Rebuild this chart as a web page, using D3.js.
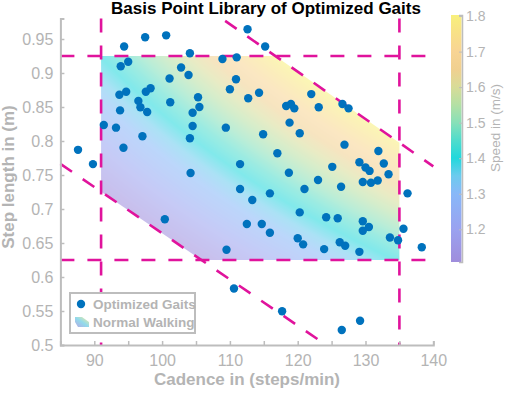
<!DOCTYPE html>
<html><head><meta charset="utf-8">
<script src="https://cdn.jsdelivr.net/npm/d3@7"></script>
<style>
body{margin:0;background:#fff}
svg{display:block}
text{font-family:"Liberation Sans",Arial,Helvetica,sans-serif}
</style>
</head><body>
<svg id="chart" width="512" height="394"></svg>
<script>
// ---------------- data ----------------
const cadence = [94.4,97.5,100.6,112.6,115.2,104.1,108.9,111.0,95.0,93.9,102.8,103.9,101.1,110.9,110.0,114.3,112.7,
  98.3,97.6,94.7,93.7,96.5,96.8,97.8,101.2,105.3,105.5,104.5,93.8,104.5,109.4,91.4,93.2,97.1,104.1,87.6,94.3,89.8,
  111.5,104.2,111.5,113.3,112.5,114.7,100.4,109.5,110.6,118.3,119.0,119.5,122.0,123.1,126.6,127.5,118.8,114.9,120.3,
  126.9,117.0,131.9,132.7,129.1,130.0,130.6,125.1,118.7,133.4,123.0,129.6,130.8,131.8,115.9,121.0,126.4,136.2,120.3,
  124.2,125.9,115.9,129.6,130.5,129.6,135.6,120.0,120.8,123.9,126.2,127.0,129.1,133.6,134.8,138.3,117.7,126.5,129.2];
const stepLength = [0.939,0.9525,0.9554,0.9643,0.939,0.929,0.9206,0.923,0.9166,0.910,0.908,0.897,0.892,0.8907,0.876,0.871,0.8628,
  0.8775,0.8725,0.8725,0.868,0.859,0.8496,0.8426,0.857,0.8643,0.850,0.8416,0.845,0.822,0.8196,0.8235,0.8196,0.807,0.804,0.787,0.790,0.766,
  0.766,0.753,0.7294,0.7132,0.678,0.678,0.685,0.640,0.583,0.8515,0.8544,0.848,0.869,0.8496,0.8544,0.848,0.827,0.810,0.8113,
  0.7946,0.782,0.7853,0.767,0.7687,0.761,0.756,0.762,0.7534,0.751,0.7426,0.7397,0.7387,0.742,0.723,0.7294,0.7328,0.723,0.695,
  0.6878,0.6863,0.665,0.682,0.6735,0.668,0.671,0.657,0.648,0.641,0.651,0.646,0.637,0.658,0.654,0.6437,0.5496,0.522,0.5357];

const xTickValues = [90,95,100,105,110,115,120,125,130,135,140];
const xTickLabels = ["90","","100","","110","","120","","130","","140"];
const yTickValues = [0.5,0.55,0.6,0.65,0.7,0.75,0.8,0.85,0.9,0.95];
const yTickLabels = ["0.5","0.55","0.6","0.65","0.7","0.75","0.8","0.85","0.9","0.95"];
const speedTicks = [1.2,1.3,1.4,1.5,1.6,1.7,1.8];
const speedTickLabels = ["1.2","1.3","1.4","1.5","1.6","1.7","1.8"];

const speedStops  = [1.107,1.2,1.3,1.35,1.4,1.45,1.5,1.55,1.6,1.65,1.7,1.75,1.803];
const speedColors = ["#9f8ddc","#9aa2f0","#88b8f8","#6ccbee","#22d8dc","#50dccc","#88e0b8","#b4e0a4","#d8dc98","#f0d090","#f8d494","#f8e088","#f8f07c"];

// boundary lines (cadence, step length)
const boundCadence = [91, 135];
const boundStep = [0.625, 0.925];
const upperLineC = [109.3, 140];
const upperLineS = [0.9766, 0.7626];
const lowerLineC = [85, 124.2];
const lowerLineS = [0.7663, 0.5];
const regionC = [91, 116.7, 135, 135, 105.8, 91];
const regionS = [0.925, 0.925, 0.7975, 0.625, 0.625, 0.7255];

// ---------------- drawing ----------------
const svg = d3.select("#chart");
const gray = "#bdbdbd";
const textGray = "#b4b4b4";
const magenta = "#e0139c";

const x = d3.scaleLinear().domain([85,140]).range([60.4,433.3]);
const y = d3.scaleLinear().domain([0.5,0.98]).range([345,18.6]);
const cbScale = d3.scaleLinear().domain([1.108,1.803]).range([262,15]);
const colorScale = d3.scaleLinear().domain(speedStops).range(speedColors).clamp(true);

const defs = svg.append("defs");

// Normal walking region: colored by speed = cadence*step/60
const x0 = 60, y0 = 18, w = 374, h = 328;
const canvas = document.createElement("canvas");
canvas.width = w; canvas.height = h;
const ctx = canvas.getContext("2d");
const img = ctx.createImageData(w, h);
for (let j = 0; j < h; j++) {
  for (let i = 0; i < w; i++) {
    const c = x.invert(x0 + i + 0.5), s = y.invert(y0 + j + 0.5);
    const col = d3.rgb(colorScale(c * s / 60));
    const k = (j * w + i) * 4;
    img.data[k] = col.r; img.data[k+1] = col.g; img.data[k+2] = col.b; img.data[k+3] = 145;
  }
}
ctx.putImageData(img, 0, 0);

const regionPts = regionC.map((c, i) => [x(c), y(regionS[i])]);
defs.append("clipPath").attr("id","regionClip")
  .append("polygon").attr("points", regionPts.map(p => p.join(",")).join(" "));
svg.append("image")
  .attr("x", x0).attr("y", y0).attr("width", w).attr("height", h)
  .attr("href", canvas.toDataURL())
  .attr("clip-path","url(#regionClip)");

// dashed boundary lines
const dash = "14,13";
const lines = svg.append("g").attr("stroke", magenta).attr("stroke-width", 2.6).attr("stroke-dasharray", dash).attr("fill","none");
boundCadence.forEach(c => lines.append("line").attr("x1", x(c)).attr("x2", x(c)).attr("y1", y(0.98)).attr("y2", y(0.5)));
boundStep.forEach(s => lines.append("line").attr("x1", x(85)).attr("x2", x(140)).attr("y1", y(s)).attr("y2", y(s)));
lines.append("line").attr("x1", x(upperLineC[0])).attr("y1", y(upperLineS[0])).attr("x2", x(upperLineC[1])).attr("y2", y(upperLineS[1]));
lines.append("line").attr("x1", x(lowerLineC[0])).attr("y1", y(lowerLineS[0])).attr("x2", x(lowerLineC[1])).attr("y2", y(lowerLineS[1]));

// points
svg.append("g").selectAll("circle").data(cadence).join("circle")
  .attr("cx", d => x(d)).attr("cy", (d, i) => y(stepLength[i]))
  .attr("r", 4.2).attr("fill", "#0072bd");

// axes
const xAxis = d3.axisBottom(x).tickValues(xTickValues).tickFormat((d, i) => xTickLabels[i]).tickSize(-4).tickPadding(10);
const gx = svg.append("g").attr("transform","translate(0,345)").call(xAxis);
const yAxis = d3.axisLeft(y).tickValues(yTickValues).tickFormat((d, i) => yTickLabels[i]).tickSize(-4).tickPadding(7);
const gy = svg.append("g").attr("transform","translate(60.4,0)").call(yAxis);
[gx, gy].forEach(g => {
  g.select(".domain").attr("stroke", gray).attr("stroke-width", 2);
  g.selectAll(".tick line").attr("stroke", gray).attr("stroke-width", 1.5);
  g.selectAll(".tick text").attr("fill", textGray).attr("font-size", 16).attr("font-family", "'Liberation Sans',Arial,sans-serif");
});
gx.selectAll(".tick text").attr("dy", "0.71em");

// labels
svg.append("text").attr("x", 247).attr("y", 385).attr("text-anchor","middle")
  .attr("font-size", 17).attr("font-weight","bold").attr("fill", textGray).text("Cadence in (steps/min)");
svg.append("text").attr("transform","translate(14,177) rotate(-90)").attr("text-anchor","middle")
  .attr("font-size", 17).attr("font-weight","bold").attr("fill", textGray).text("Step length in (m)");
svg.append("text").attr("x", 266).attr("y", 14).attr("text-anchor","middle")
  .attr("font-size", 17).attr("font-weight","bold").attr("fill", "#000").text("Basis Point Library of Optimized Gaits");

// colorbar
const cbGrad = defs.append("linearGradient").attr("id","cbGrad").attr("x1",0).attr("y1",1).attr("x2",0).attr("y2",0);
speedStops.forEach((s, i) => cbGrad.append("stop")
  .attr("offset", (s - speedStops[0]) / (speedStops[speedStops.length-1] - speedStops[0]))
  .attr("stop-color", speedColors[i]));
svg.append("rect").attr("x", 451).attr("y", cbScale(1.803)).attr("width", 10.5)
  .attr("height", cbScale(1.108) - cbScale(1.803)).attr("fill","url(#cbGrad)");
const cbAxis = d3.axisRight(cbScale).tickValues(speedTicks).tickFormat((d, i) => speedTickLabels[i]).tickSize(-3).tickPadding(4);
const gcb = svg.append("g").attr("transform","translate(462,0)").call(cbAxis);
gcb.select(".domain").attr("stroke", gray).attr("stroke-width", 1.5);
gcb.selectAll(".tick line").attr("stroke", gray);
gcb.selectAll(".tick text").attr("fill", textGray).attr("font-size", 14);
svg.append("text").attr("transform","translate(500,128) rotate(-90)").attr("text-anchor","middle")
  .attr("font-size", 13.5).attr("fill", textGray).text("Speed in (m/s)");

// legend
const lg = svg.append("g");
lg.append("rect").attr("x", 70).attr("y", 293).attr("width", 125).attr("height", 40)
  .attr("fill","#fff").attr("stroke", gray).attr("stroke-width", 2);
lg.append("circle").attr("cx", 81).attr("cy", 304).attr("r", 4.2).attr("fill","#0072bd");
const lgGrad = defs.append("linearGradient").attr("id","lgGrad").attr("x1",0).attr("y1",1).attr("x2",1).attr("y2",0);
[0, 0.5, 1].forEach((o, i) => lgGrad.append("stop").attr("offset", o).attr("stop-color", ["#a79ce0","#7ed4e8","#f4ea88"][i]));
lg.append("polygon").attr("points","75,317 82,317 89,322 89,327 78,327 75,322").attr("fill","url(#lgGrad)").attr("opacity",0.85);
lg.append("text").attr("x", 93).attr("y", 309).attr("font-size", 13.5).attr("font-weight","bold").attr("fill", textGray).text("Optimized Gaits");
lg.append("text").attr("x", 93).attr("y", 327).attr("font-size", 13.5).attr("font-weight","bold").attr("fill", textGray).text("Normal Walking");
</script>
</body></html>
